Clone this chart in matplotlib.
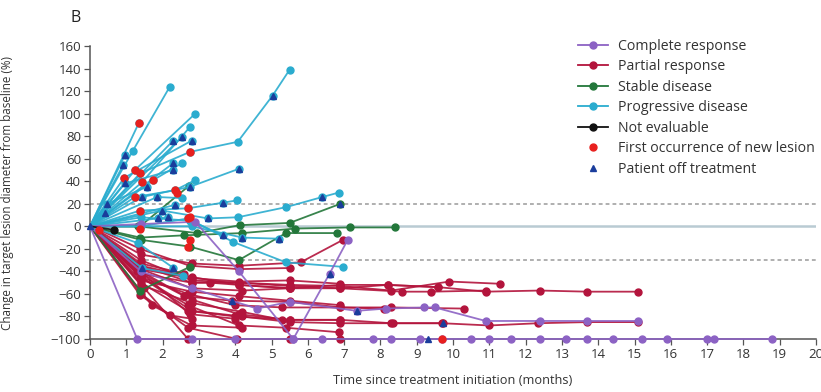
import matplotlib
matplotlib.use("Agg")
import matplotlib.pyplot as plt
from matplotlib.lines import Line2D

plt.rcParams['font.family'] = ['Open Sans', 'DejaVu Sans']

# ---- response categories ----
categories = ["Complete response", "Partial response", "Stable disease",
              "Progressive disease", "Not evaluable"]
cat_colors = {"Complete response": "#8c62c4",
              "Partial response": "#b3143c",
              "Stable disease": "#23773a",
              "Progressive disease": "#2aaccf",
              "Not evaluable": "#111111"}

# ---- per-patient trajectories: (months, % change) ----
cr_patients = [
    ([0, 1.3, 2.8, 4.0, 5.6, 6.4, 7.8, 8.3, 9.1, 9.7, 10.5, 11.0, 11.6, 12.4,
      13.1, 13.7, 14.4, 15.2, 15.9, 17.0, 17.2, 18.8],
     [0, -100, -100, -100, -100, -100, -100, -100, -100, -100, -100, -100,
      -100, -100, -100, -100, -100, -100, -100, -100, -100, -100]),
    ([0, 1.4, 2.9, 4.1, 5.6, 6.6, 7.1], [0, 2, 4, -40, -100, -42, -12]),
    ([0, 1.4, 2.8, 4.6, 5.5, 7.35, 8.15, 9.2, 9.5, 10.9, 12.4, 13.7, 15.1],
     [0, -40, -55, -73, -67, -75, -73, -72, -72, -84, -84, -84, -84]),
]

pr_patients = [
    ([0, 1.4, 2.8, 4.1, 5.5, 6.9, 8.2, 9.6, 10.9, 12.4, 13.7, 15.1],
     [0, -35, -45, -52, -55, -52, -52, -54, -58, -57, -58, -58]),
    ([0, 1.4, 2.8, 4.1, 5.5, 6.9, 8.3, 9.7, 11.0, 12.35, 13.7, 15.1],
     [0, -40, -65, -78, -83, -83, -86, -86, -88, -86, -85, -85]),
    ([0, 1.4, 2.8, 4.1, 5.5, 6.9, 8.3, 9.9, 11.3],
     [0, -30, -48, -50, -52, -53, -57, -49, -51]),
    ([0, 1.4, 2.8, 4.2, 5.5, 6.9, 8.6, 9.4, 10.9],
     [0, -38, -55, -57, -55, -55, -58, -58, -57]),
    ([0, 1.4, 2.8, 4.1, 5.5, 6.9, 8.2, 9.6],
     [0, -42, -50, -50, -53, -55, -52, -54]),
    ([0, 1.4, 2.7, 4.0, 5.3, 6.9, 8.3, 10.3],
     [0, -45, -60, -70, -72, -72, -72, -73]),
    ([0, 1.4, 2.7, 4.0, 5.5, 6.9], [0, -50, -75, -80, -83, -83]),
    ([0, 1.4, 2.7, 4.1, 5.4, 6.85], [0, -45, -70, -88, -90, -94]),
    ([0, 1.4, 2.7, 4.05, 5.5, 6.9], [0, -60, -90, -100, -100, -100]),
    ([0, 1.5, 2.7], [0, -55, -100]),
    ([0, 1.38, 2.2, 2.8], [0, -61, -79, -82]),
    ([0, 1.7, 2.8, 4.2], [0, -70, -88, -90]),
    ([0, 0.25, 1.38, 2.75, 4.1, 5.5], [0, -3, -20, -35, -38, -37]),
    ([0, 1.4, 2.8, 4.1, 5.8, 6.97], [0, -25, -33, -35, -32, -12]),
    ([0, 1.4, 2.8, 3.3, 4.1, 5.5], [0, -35, -50, -50, -52, -55]),
    ([0, 1.3, 2.6, 3.9, 5.5, 6.9, 8.1], [0, -40, -62, -66, -67, -72, -73]),
    ([0, 1.4, 2.8, 4.2, 5.5, 6.9, 8.35, 9.73],
     [0, -45, -75, -80, -85, -86, -86, -86]),
    ([0, 1.4, 2.8, 4.1, 5.5, 6.9], [0, -48, -58, -62, -66, -70]),
    ([0, 1.38, 2.75, 4.0], [0, -40, -78, -82]),
    ([0, 1.4, 2.8, 4.2, 5.3], [0, -52, -68, -76, -83]),
    ([0, 1.4, 2.6], [0, -33, -42]),
    ([0, 1.4, 2.8, 4.1, 5.5, 6.9], [0, -38, -46, -49, -48, -51]),
]

sd_patients = [
    ([0, 1.38, 2.73], [0, 0, 36]),
    ([0, 1.33, 2.95, 4.13, 5.5, 6.9], [0, 0, -6, 1, 3, 20]),
    ([0, 1.38, 2.6, 4.2, 5.65, 7.16, 8.4], [0, -10, -8, -6, -2, -1, -1]),
    ([0, 1.4, 2.75, 4.1, 5.4, 6.8], [0, -12, -18, -30, -6, -6]),
    ([0, 1.38, 2.75], [0, -57, -36]),
]

pd_patients = [
    ([0, 1.18, 2.2], [0, 67, 124]),
    ([0, 1.35], [0, 92]),
    ([0, 1.38, 2.75, 4.07, 5.03, 5.5], [0, 47, 66, 75, 116, 139]),
    ([0, 1.24, 2.9], [0, 50, 100]),
    ([0, 1.43, 2.75], [0, 39, 88]),
    ([0, 2.53], [0, 79]),
    ([0, 2.29], [0, 76]),
    ([0, 0.96], [0, 63]),
    ([0, 0.91], [0, 54]),
    ([0, 0.94, 2.8], [0, 43, 76]),
    ([0, 1.74, 2.53], [0, 41, 56]),
    ([0, 2.29], [0, 56]),
    ([0, 0.96, 2.29], [0, 38, 50]),
    ([0, 1.43, 2.75, 4.1], [0, 26, 35, 51]),
    ([0, 1.24, 2.34, 2.9], [0, 26, 32, 41]),
    ([0, 1.38, 2.7, 3.67, 4.05], [0, 14, 16, 21, 23]),
    ([0, 1.98, 3.25, 4.07, 5.4, 6.4, 6.86], [0, 14, 7, 8, 17, 26, 30]),
    ([0, 0.47, 1.57], [0, 20, 35]),
    ([0, 0.41], [0, 12]),
    ([0, 1.85, 2.53], [0, 26, 25]),
    ([0, 2.34], [0, 19]),
    ([0, 1.87, 2.15], [0, 7, 8]),
    ([0, 1.4, 2.7, 3.95, 5.4, 6.97], [0, 0, 7, -14, -32, -36]),
    ([0, 1.33, 2.3], [0, -15, -37]),
    ([0, 1.43, 2.57], [0, -37, -44]),
    ([0, 1.4, 2.75, 3.67], [0, 8, 5, -8]),
    ([0, 2.8, 4.2, 5.2], [0, 0, -10, -11]),
]

ne_patients = [
    ([0, 0.65], [0, -3]),
]

# ---- event markers ----
new_lesion_t = [1.35, 1.24, 1.38, 0.94, 1.43, 1.74, 1.24, 1.38, 2.75, 2.34,
                2.7, 2.7, 0.25, 9.7, 1.38, 2.75, 2.75, 2.7, 2.4]
new_lesion_v = [92, 50, 47, 43, 39, 41, 26, 14, 66, 32,
                16, 7, -3, -100, -2, 8, -12, -18, 30]

off_tx_t = [5.03, 2.53, 2.29, 2.8, 0.96, 0.91, 2.29, 2.29, 1.43, 4.1, 2.75,
            1.57, 0.96, 0.47, 0.41, 1.85, 1.98, 2.34, 2.15, 1.87, 3.67, 3.25,
            6.4, 2.3, 1.43, 3.67, 4.2, 5.2, 6.9, 7.35, 9.73, 9.3, 6.6, 3.9, 0]
off_tx_v = [116, 79, 76, 76, 63, 54, 56, 50, 26, 51, 35,
            35, 38, 20, 12, 26, 14, 19, 8, 7, 21, 7,
            26, -37, -37, -8, -10, -11, 20, -75, -86, -100, -42, -66, 0]

# ---- figure ----
fig = plt.figure(figsize=(8.21, 3.92), dpi=100)
ax = fig.add_axes([90 / 821, 1 - 339 / 392, (816 - 90) / 821, (339 - 46) / 392])
ax.set_xlim(0, 20)
ax.set_ylim(-100, 160)

# reference lines
ax.axhline(0, color="#b9cbd3", lw=1.8, zorder=1)
for yref in (20, -30):
    ax.axhline(yref, color="#9a9a9a", lw=1.1, ls=(0, (2.5, 2)), zorder=1)

MS = 5.0
groups = [("Partial response", pr_patients),
          ("Stable disease", sd_patients),
          ("Progressive disease", pd_patients),
          ("Complete response", cr_patients),
          ("Not evaluable", ne_patients)]
for z, (name, pts) in enumerate(groups):
    c = cat_colors[name]
    for t, v in pts:
        ax.plot(t, v, color=c, lw=1.3, alpha=0.9, zorder=2 + z, clip_on=False)
        ax.plot(t[1:], v[1:], ls="none", marker="o", ms=MS, color=c,
                mec=c, zorder=2 + z, clip_on=False)

ax.plot(new_lesion_t, new_lesion_v, ls="none", marker="o", ms=MS,
        color="#e8201e", zorder=9, clip_on=False)
ax.plot(off_tx_t, off_tx_v, ls="none", marker="^", ms=MS,
        color="#1a3d9c", zorder=10, clip_on=False)

# axes styling
for s in ("top", "right"):
    ax.spines[s].set_visible(False)
for s in ("left", "bottom"):
    ax.spines[s].set_color("#555555")
    ax.spines[s].set_linewidth(1.1)
ax.set_yticks(range(-100, 161, 20))
ax.set_xticks(range(0, 21))
ax.tick_params(axis="both", direction="out", length=4, width=0.9,
               color="#555555", labelsize=9.5, labelcolor="#333333", pad=2.5)
ax.set_ylabel("Change in target lesion diameter from baseline (%)",
              fontsize=8.4, color="#333333")
ax.yaxis.set_label_coords((14 - 90) / 726, 0.5)
ax.set_xlabel("Time since treatment initiation (months)", fontsize=9.2,
              color="#333333", labelpad=9)

fig.text(70 / 821, 1 - 18 / 392, "B", fontsize=11.5, color="#222222",
         ha="left", va="center")

handles = [Line2D([], [], color=cat_colors[c], lw=1.3, marker="o", ms=MS)
           for c in categories]
handles.append(Line2D([], [], ls="none", marker="o", ms=MS, color="#e8201e"))
handles.append(Line2D([], [], ls="none", marker="^", ms=MS, color="#1a3d9c"))
labels = categories + ["First occurrence of new lesion", "Patient off treatment"]
fig.legend(handles, labels, loc="upper left",
           bbox_to_anchor=(578 / 821, 1 - 38.5 / 392), frameon=False,
           fontsize=10.2, handlelength=2.1, handletextpad=0.75,
           labelspacing=0.39, borderpad=0, borderaxespad=0,
           labelcolor="#333333")

fig.savefig("out.png", dpi=100)
